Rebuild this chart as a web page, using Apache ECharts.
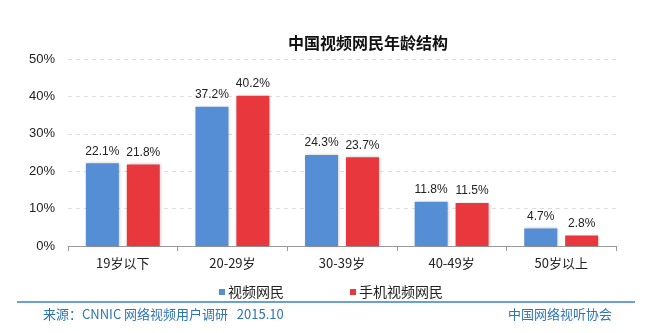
<!DOCTYPE html>
<html><head><meta charset="utf-8">
<script src="https://cdn.jsdelivr.net/npm/echarts@6/dist/echarts.min.js"></script>
<style>html,body{margin:0;padding:0;background:#fff}#c{width:650px;height:333px}</style>
</head><body><div id="c"></div>
<script>
const categories = ['19岁以下','20-29岁','30-39岁','40-49岁','50岁以上'];
const videoUsers = [22.1, 37.2, 24.3, 11.8, 4.7];
const mobileVideoUsers = [21.8, 40.2, 23.7, 11.5, 2.8];
const seriesNames = ['视频网民','手机视频网民'];
const yTicks = {min:0, max:50, interval:10};

const chart = echarts.init(document.getElementById('c'));
const font = '"Microsoft YaHei","Noto Sans CJK SC",sans-serif';
const arial = 'Arial, "Liberation Sans", sans-serif';
const lbl = {show:true, position:'top', distance:6, formatter: p => p.value.toFixed(1)+'%', color:'#222', fontSize:12, fontFamily:arial};
const shadow = {shadowBlur:3, shadowColor:'rgba(0,0,0,0.22)', shadowOffsetX:1, shadowOffsetY:0};
chart.setOption({
  animation:false,
  title:{text:'中国视频网民年龄结构', left:363, top:30, textAlign:'center', textStyle:{fontSize:16, fontWeight:'bold', color:'#111', fontFamily:font}},
  legend:{data:seriesNames, left:214, top:280, itemWidth:6, itemHeight:6, itemGap:66, icon:'rect', textStyle:{fontSize:14, color:'#222', fontFamily:font, padding:[0,0,0,-2]}},
  grid:{left:68, right:34, top:59, bottom:87},
  xAxis:{type:'category', data:categories, axisLine:{lineStyle:{color:'#999'}}, axisTick:{show:true, length:5, lineStyle:{color:'#999'}}, axisLabel:{color:'#222', fontSize:13, margin:11, fontFamily:font}},
  yAxis:{type:'value', min:yTicks.min, max:yTicks.max, interval:yTicks.interval, axisLabel:{formatter:'{value}%', color:'#222', fontSize:13, margin:13, fontFamily:arial}, splitLine:{lineStyle:{type:[4,4], color:'#ddd'}}, axisLine:{show:false}, axisTick:{show:false}},
  series:[
    {name:seriesNames[0], type:'bar', data:videoUsers, barWidth:33, barGap:'24%', itemStyle:Object.assign({color:'#558ed5'}, shadow), label:lbl},
    {name:seriesNames[1], type:'bar', data:mobileVideoUsers, barWidth:33, barGap:'24%', itemStyle:Object.assign({color:'#e8383d'}, shadow), label:lbl}
  ],
  graphic:[
    {type:'line', shape:{x1:17, y1:302, x2:635, y2:302}, style:{stroke:'#6a9fd8', lineWidth:2}},
    {type:'text', left:43, top:308, style:{text:'来源：CNNIC 网络视频用户调研   2015.10', fill:'#2e75b6', font:'13px '+font}},
    {type:'text', left:508, top:308, style:{text:'中国网络视听协会', fill:'#2e75b6', font:'13px '+font}}
  ]
});
</script></body></html>
